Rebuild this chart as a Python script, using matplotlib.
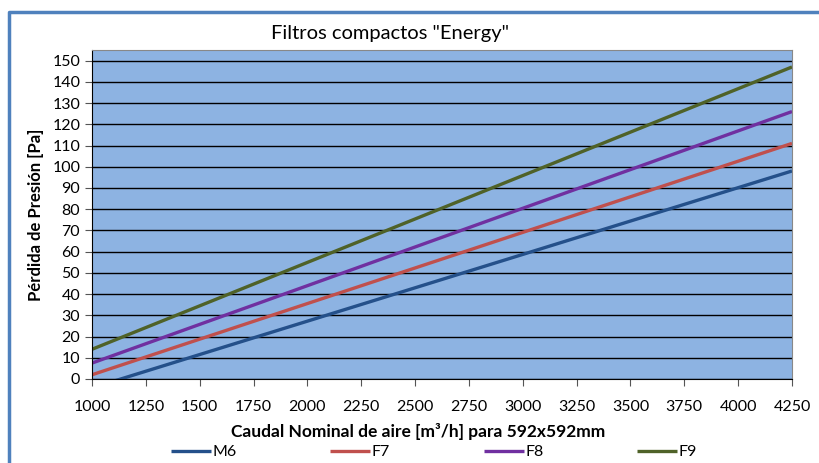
import matplotlib.pyplot as plt
import numpy as np
from matplotlib.lines import Line2D

plt.rcParams['font.family'] = ['Lato', 'DejaVu Sans']

caudal = [1000, 4250]
series = ['M6', 'F7', 'F8', 'F9']
perdida = {
    'M6': [-4.2, 98],
    'F7': [2, 111],
    'F8': [7.5, 126],
    'F9': [14, 147],
}
colors = {'M6': '#24508A', 'F7': '#C0504D', 'F8': '#7030A0', 'F9': '#4F6228'}

fig = plt.figure(figsize=(8.19, 4.63), dpi=100)
ax = fig.add_axes([92/819, 84/463, 700/819, 329/463])

# outer chart frame (Excel style), runs off the right and bottom edges
fx, fy = 9/819, 1 - 12/463
fig.add_artist(Line2D([fx, fx, 1.02], [-0.02, fy, fy], transform=fig.transFigure,
                      color='#4F81BD', linewidth=2.5, solid_joinstyle='round'))

ax.set_facecolor('#8DB3E2')
for s in series:
    ax.plot(caudal, perdida[s], color=colors[s], linewidth=2.4, label=s, solid_capstyle='butt')

ax.set_xlim(1000, 4250)
ax.set_ylim(0, 155)
ax.set_xticks(np.arange(1000, 4251, 250))
ax.set_yticks(np.arange(0, 151, 10))
ax.yaxis.grid(True, color='black', linewidth=1)
ax.set_axisbelow(True)
ax.tick_params(axis='both', labelsize=11.5, direction='out', length=5, color='#555555')
ax.tick_params(axis='x', pad=10)

ax.spines['top'].set_color('#888888')
ax.spines['right'].set_color('#888888')
ax.spines['left'].set_color('black')
ax.spines['bottom'].set_color('black')

fig.text(390/819, 1 - 33/463, 'Filtros compactos "Energy"', ha='center', va='center', fontsize=14.5)
fig.text(418/819, 1 - 432/463, 'Caudal Nominal de aire [m³/h] para 592x592mm',
         ha='center', va='center', fontsize=12.5, fontweight='bold')
ax.set_ylabel('Pérdida de Presión [Pa]', fontsize=12, fontweight='bold', labelpad=6)

fig.legend(loc='center', bbox_to_anchor=(434/819, 1 - 452/463), ncol=4, frameon=False,
           fontsize=11.5, handlelength=2.5, handletextpad=0.1, columnspacing=5.85,
           borderaxespad=0, borderpad=0)

plt.savefig('out.png', dpi=100)
